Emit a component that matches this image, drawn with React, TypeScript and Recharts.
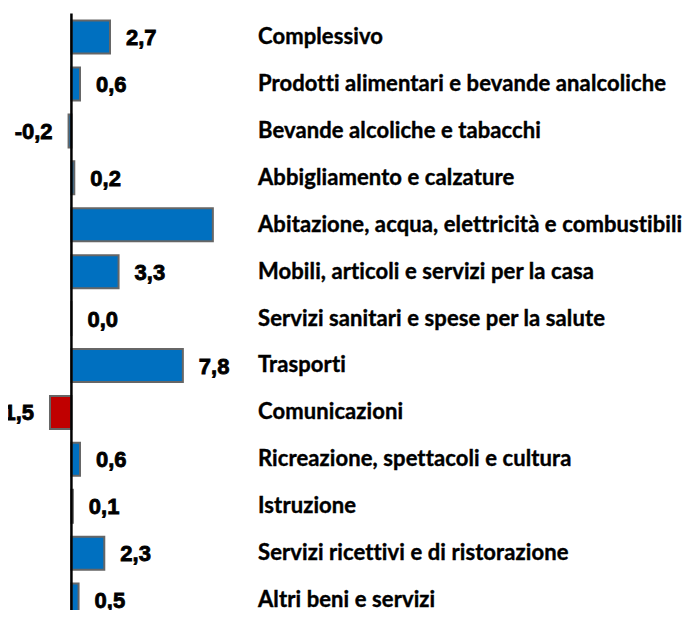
import React from 'react';
import { BarChart, Bar, XAxis, YAxis, Cell, LabelList, ReferenceLine } from 'recharts';

const categories = [
  'Complessivo',
  'Prodotti alimentari e bevande analcoliche',
  'Bevande alcoliche e tabacchi',
  'Abbigliamento e calzature',
  'Abitazione, acqua, elettricità e combustibili',
  'Mobili, articoli e servizi per la casa',
  'Servizi sanitari e spese per la salute',
  'Trasporti',
  'Comunicazioni',
  'Ricreazione, spettacoli e cultura',
  'Istruzione',
  'Servizi ricettivi e di ristorazione',
  'Altri beni e servizi',
];

const values = [2.7, 0.6, -0.2, 0.2, 9.9, 3.3, 0.0, 7.8, -1.5, 0.6, 0.1, 2.3, 0.5];

// the label of this bar is not visible in the original
const hiddenLabels = ['Abitazione, acqua, elettricità e combustibili'];

const data = categories.map((name, i) => ({ name, value: values[i] }));

const fmt = (v: number) => v.toFixed(1).replace('.', ',');

const CategoryTick = (props: any) => {
  const { y, payload } = props;
  return (
    <text
      x={258}
      y={y}
      dy={7}
      textAnchor="start"
      fontFamily="Lato"
      fontWeight={700}
      fontSize={22}
      letterSpacing={0.1}
      stroke="#000"
      strokeWidth={0.4}
      fill="#000"
    >
      {payload.value}
    </text>
  );
};

const ValueLabel = (props: any) => {
  const { x, y, width, height, value, index } = props;
  if (hiddenLabels.includes(categories[index])) return null;
  const left = Math.min(x, x + width);
  const right = Math.max(x, x + width);
  const neg = value < 0;
  return (
    <text
      x={neg ? left - 16 : right + 16}
      y={y + height / 2}
      dy={8}
      textAnchor={neg ? 'end' : 'start'}
      fontFamily="Liberation Sans"
      fontWeight={700}
      fontSize={22}
      stroke="#000"
      strokeWidth={0.8}
      fill="#000"
    >
      {fmt(value)}
    </text>
  );
};

const App: React.FC = () => {
  return (
    <div style={{ width: 692, height: 618, overflow: 'hidden', margin: -8 }}>
      <BarChart
        width={692}
        height={630}
        data={data}
        layout="vertical"
        margin={{ top: 13.5, right: 0, bottom: 6.5, left: 0 }}
        barCategoryGap="15%"
      >
        <XAxis type="number" domain={[-5, 12.5]} hide allowDataOverflow />
        <YAxis
          type="category"
          dataKey="name"
          orientation="right"
          width={442}
          axisLine={false}
          tickLine={false}
          tick={<CategoryTick />}
          interval={0}
        />
        <Bar
          dataKey="value"
          stroke="#666666"
          strokeWidth={2}
          minPointSize={0.001}
          isAnimationActive={false}
        >
          {data.map((d, i) => (
            <Cell key={`cell-${i}`} fill={d.value <= -1 ? '#C00000' : '#0070C0'} />
          ))}
          <LabelList dataKey="value" content={<ValueLabel />} />
        </Bar>
        <ReferenceLine x={0} stroke="#000" strokeWidth={2.5} />
      </BarChart>
    </div>
  );
};

export default App;
